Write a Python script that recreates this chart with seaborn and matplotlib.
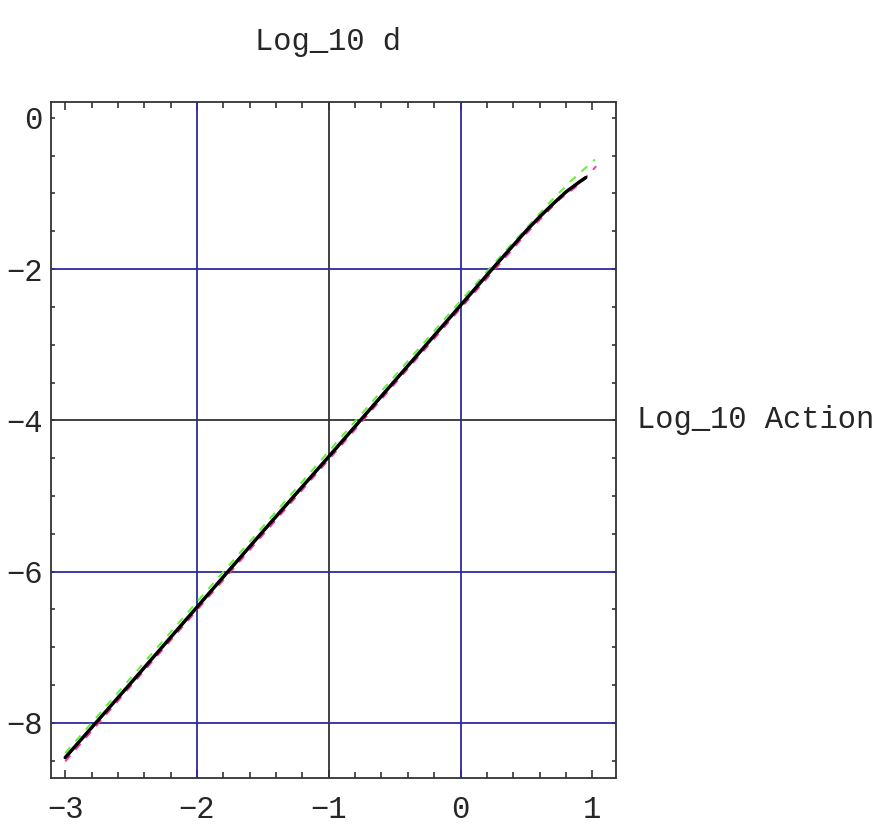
import matplotlib
matplotlib.use("Agg")
import matplotlib.pyplot as plt
from matplotlib.ticker import MultipleLocator, FixedLocator
import numpy as np
import pandas as pd
import seaborn as sns

# log10 of the action (x) against log10 of d (y)
x_black = [-3.0, -2.5, -2.0, -1.5, -1.0, -0.5, 0.0, 0.25, 0.5, 0.6, 0.7, 0.8, 0.9, 0.95]
y_black = [-8.46, -7.47, -6.47, -5.47, -4.48, -3.48, -2.48, -1.98, -1.49, -1.31, -1.14, -0.98, -0.85, -0.79]

x_green = [-3.0, -2.0, -1.0, 0.0, 0.33, 0.51, 0.67, 0.84, 1.02]
y_green = [-8.40, -6.40, -4.41, -2.42, -1.78, -1.44, -1.13, -0.83, -0.55]

x_magenta = [-3.0, -2.0, -1.0, 0.0, 0.5, 0.75, 0.9, 1.03]
y_magenta = [-8.51, -6.51, -4.52, -2.52, -1.53, -1.08, -0.88, -0.64]

x_ticks = [-3, -2, -1, 0, 1]
y_ticks = [0, -2, -4, -6, -8]
x_grid_blue = [-2, 0]
x_grid_black = [-1]
y_grid_blue = [-2, -6, -8]
y_grid_black = [-4]

sns.set_style("white")
plt.rcParams["font.family"] = ["Liberation Mono", "DejaVu Sans Mono"]

fig = plt.figure(figsize=(8.78, 8.30), dpi=100)
ax = fig.add_axes([51 / 878, 1 - 778 / 830, (616 - 51) / 878, (778 - 102) / 830])

blue = "#2c2c9e"
for gx in x_grid_blue:
    ax.axvline(gx, color=blue, lw=1.3, zorder=1)
for gx in x_grid_black:
    ax.axvline(gx, color="#333333", lw=1.3, zorder=1)
for gy in y_grid_blue:
    ax.axhline(gy, color=blue, lw=1.3, zorder=1)
for gy in y_grid_black:
    ax.axhline(gy, color="#333333", lw=1.3, zorder=1)

df_green = pd.DataFrame({"x": x_green, "y": y_green})
df_mag = pd.DataFrame({"x": x_magenta, "y": y_magenta})
df_black = pd.DataFrame({"x": x_black, "y": y_black})

sns.lineplot(data=df_green, x="x", y="y", ax=ax, color="#66f03a", lw=1.4,
             linestyle=(0, (4, 4)), sort=False, zorder=2)
sns.lineplot(data=df_mag, x="x", y="y", ax=ax, color="#ff3399", lw=1.4,
             linestyle=(0, (4, 4)), sort=False, zorder=2)
sns.lineplot(data=df_black, x="x", y="y", ax=ax, color="black", lw=2.5,
             sort=False, zorder=3)

ax.set_xlim(-3.108, 1.18)
ax.set_ylim(-8.73, 0.21)

ax.xaxis.set_major_locator(FixedLocator(x_ticks))
ax.xaxis.set_minor_locator(MultipleLocator(0.2))
ax.yaxis.set_major_locator(FixedLocator(y_ticks))
ax.yaxis.set_minor_locator(MultipleLocator(0.5))

ax.tick_params(axis="x", which="major", direction="in", length=6, width=1.2,
               color="#333333", top=True, bottom=True, labelsize=22, pad=12)
ax.tick_params(axis="x", which="minor", direction="in", length=4, width=1.2,
               color="#333333", top=True, bottom=True)
ax.tick_params(axis="y", which="both", direction="in", length=3, width=1.2,
               color="#333333", left=True, right=True, labelsize=22, pad=6)

for s in ax.spines.values():
    s.set_color("#333333")
    s.set_linewidth(1.3)

ax.set_xlabel("")
ax.set_ylabel("")

fig.text(328 / 878, 1 - 42 / 830, "Log_10 d", ha="center", va="center", fontsize=22)
fig.text(637 / 878, 1 - 420 / 830, "Log_10 Action", ha="left", va="center", fontsize=22)

fig.savefig("out.png", dpi=100, facecolor="white")
